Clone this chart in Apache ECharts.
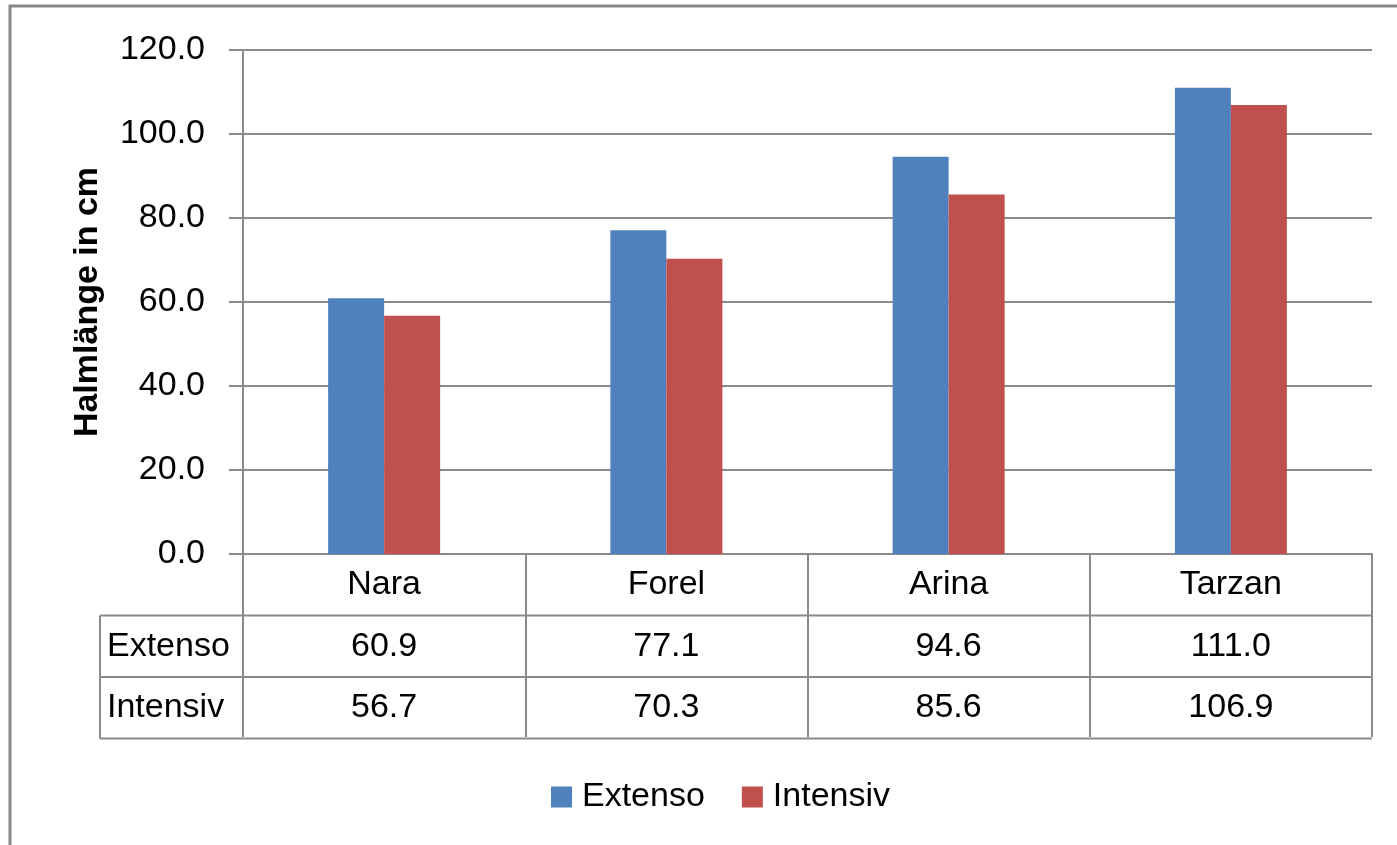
<!DOCTYPE html>
<html>
<head>
<meta charset="utf-8">
<script src="https://cdn.jsdelivr.net/npm/echarts@6/dist/echarts.min.js"></script>
<style>
  html, body { margin: 0; padding: 0; background: #fff; }
  #chart { width: 1397px; height: 845px; }
</style>
</head>
<body>
<div id="chart"></div>
<script>
// Halmlänge der Sorten
var categories = ['Nara', 'Forel', 'Arina', 'Tarzan']
var seriesNames = ['Extenso', 'Intensiv']
var extenso = [60.9, 77.1, 94.6, 111.0]
var intensiv = [56.7, 70.3, 85.6, 106.9]
var yTicks = [0, 20, 40, 60, 80, 100, 120]

var colors = ['#4F81BD', '#C0504D']
var lineColor = '#8a8a8a'
var fontFam = '"Liberation Sans", Arial, sans-serif'
var fs = 34

var chart = echarts.init(document.getElementById('chart'))

var option = {
  animation: false,
  backgroundColor: '#fff',
  grid: { left: 243, right: 25, top: 50, bottom: 291 },
  legend: {
    left: 546, top: 775,
    itemWidth: 21, itemHeight: 21, itemGap: 37,
    icon: 'rect',
    textStyle: { fontFamily: fontFam, fontSize: fs, color: '#000', padding: [0, 0, 0, 5] },
    data: seriesNames
  },
  xAxis: {
    type: 'category',
    data: categories,
    axisLine: { lineStyle: { color: lineColor, width: 2 } },
    axisTick: { show: true, length: 183, lineStyle: { color: lineColor, width: 2 } },
    axisLabel: { fontFamily: fontFam, fontSize: fs, color: '#000', margin: 14 }
  },
  yAxis: {
    type: 'value',
    min: yTicks[0], max: yTicks[yTicks.length - 1], interval: 20,
    name: 'Halmlänge in cm',
    nameLocation: 'middle',
    nameGap: 138,
    nameTextStyle: { fontFamily: fontFam, fontSize: 34, fontWeight: 'bold', color: '#000' },
    axisLine: { show: true, lineStyle: { color: lineColor, width: 2 } },
    axisTick: { show: true, length: 14, lineStyle: { color: lineColor, width: 2 } },
    splitLine: { lineStyle: { color: lineColor, width: 2 } },
    axisLabel: {
      fontFamily: fontFam, fontSize: fs, color: '#000', margin: 38,
      formatter: function (v) { return v.toFixed(1) }
    }
  },
  series: [
    { name: seriesNames[0], type: 'bar', data: extenso, barWidth: 56, barGap: '0%', itemStyle: { color: colors[0] } },
    { name: seriesNames[1], type: 'bar', data: intensiv, barWidth: 56, barGap: '0%', itemStyle: { color: colors[1] } }
  ]
}
chart.setOption(option)

// data table below the axis
var x0 = 243, x1 = 1372, tableLeft = 100
var axisY = chart.convertToPixel({ yAxisIndex: 0 }, 0)
var rowH = 61.5
var rows = [extenso, intensiv]
var g = []
// outer chart border
g.push({ type: 'rect', shape: { x: 10, y: 6, width: 1420, height: 900 }, style: { fill: null, stroke: '#888', lineWidth: 3 }, silent: true })
for (var r = 1; r <= 3; r++) {
  var yy = axisY + rowH * r
  g.push({ type: 'line', shape: { x1: tableLeft, y1: yy, x2: x1, y2: yy }, style: { stroke: lineColor, lineWidth: 2 } })
}
g.push({ type: 'line', shape: { x1: tableLeft, y1: axisY + rowH, x2: tableLeft, y2: axisY + rowH * 3 }, style: { stroke: lineColor, lineWidth: 2 } })
rows.forEach(function (vals, i) {
  var cy = axisY + rowH * (i + 1.5)
  g.push({ type: 'text', x: tableLeft + 7, y: cy, style: { text: seriesNames[i], font: fs + 'px ' + fontFam, fill: '#000', textVerticalAlign: 'middle' } })
  vals.forEach(function (v, j) {
    var cx = chart.convertToPixel({ xAxisIndex: 0 }, categories[j])
    g.push({ type: 'text', x: cx, y: cy, style: { text: v.toFixed(1), font: fs + 'px ' + fontFam, fill: '#000', textAlign: 'center', textVerticalAlign: 'middle' } })
  })
})
chart.setOption({ graphic: g })
</script>
</body>
</html>
